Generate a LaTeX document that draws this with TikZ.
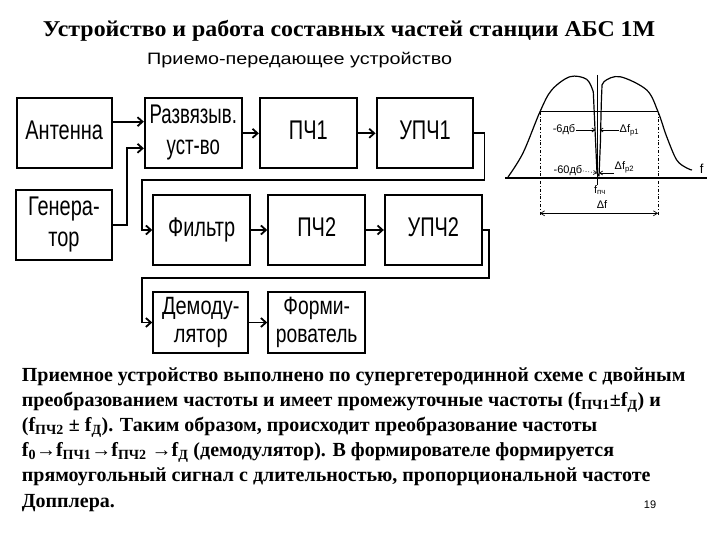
\documentclass[tikz,border=0pt]{standalone}
\usepackage{fontspec}
\usepackage{graphicx}
\setmainfont{Liberation Serif}
\setsansfont{Liberation Sans}
\usetikzlibrary{arrows.meta,calc}
\newcommand\boxtxt[2][0.74]{\scalebox{#1}[1]{\fontsize{27}{31}\selectfont\begin{tabular}{@{}c@{}}#2\end{tabular}}}
\newcommand\boxtxtS[2][0.8]{\scalebox{#1}[1]{\fontsize{25}{28}\selectfont\begin{tabular}{@{}c@{}}#2\end{tabular}}}
\begin{document}
\begin{tikzpicture}[x=1pt,y=-1pt,
  blk/.style={draw, line width=2.2pt, inner sep=0pt, font=\sffamily},
  conn/.style={line width=1.8pt, -{Straight Barb[length=5pt,width=9pt]}},
  para/.style={anchor=base west, inner sep=0pt, font=\bfseries\fontsize{20}{24}\selectfont},
  lbl/.style={inner sep=0.5pt, font=\sffamily\fontsize{11}{12}\selectfont},
  thinl/.style={line width=0.7pt}]
\useasboundingbox (0,0) rectangle (720,540);
% title
\node[anchor=base west, inner sep=0pt, font=\bfseries\fontsize{22.6}{26}\selectfont] (title) at (42.7,36.7) {\scalebox{1.057}[1]{Устройство и работа составных частей станции АБС 1М}};
\node[anchor=base west, inner sep=0pt, font=\sffamily\fontsize{16.5}{18}\selectfont] (sub) at (147,64.3) {\scalebox{1.2}[1]{Приемо-передающее устройство}};
% blocks
\node[blk, minimum width=95pt, minimum height=70pt] (ant) at (64.2,133.3) {\boxtxt{Антенна}};
\node[blk, minimum width=95.7pt, minimum height=70pt] (gen) at (63.9,225) {\boxtxt{Генера-\\тор}};
\node[blk, minimum width=96.7pt, minimum height=70pt] (raz) at (193.3,133.3) {\boxtxt[0.69]{Развязыв.\\уст-во}};
\node[blk, minimum width=96.7pt, minimum height=70pt] (pch1) at (308.3,133.3) {\boxtxt{ПЧ1}};
\node[blk, minimum width=96.7pt, minimum height=70pt] (upch1) at (425,133.3) {\boxtxt{УПЧ1}};
\node[blk, minimum width=96.7pt, minimum height=70pt] (fil) at (201.7,230) {\boxtxt{Фильтр}};
\node[blk, minimum width=96.7pt, minimum height=70pt] (pch2) at (316.7,230) {\boxtxt{ПЧ2}};
\node[blk, minimum width=96.7pt, minimum height=70pt] (upch2) at (433.3,230) {\boxtxt{УПЧ2}};
\node[blk, minimum width=95pt, minimum height=61.7pt] (dem) at (200.8,322.5) {\boxtxtS{Демоду-\\лятор}};
\node[blk, minimum width=96.7pt, minimum height=61.7pt] (form) at (316.7,322.5) {\boxtxtS[0.77]{Форми-\\рователь}};
% connectors
\draw[conn] ($(ant.east)+(0,-11.6)$) -- ($(raz.west)+(0,-11.6)$);
\draw[conn] (gen.east) -- ++(14,0) |- ($(raz.west)+(0,15)$);
\draw[conn] (raz) -- (pch1);
\draw[conn] (pch1) -- (upch1);
\draw[conn] (upch1.east) -- ++(10,0) |- (141.7,180) |- (fil.west);
\draw[conn] (fil) -- (pch2);
\draw[conn] (pch2) -- (upch2);
\draw[conn] (upch2.east) -- ++(6.3,0) |- (141.7,278) |- (dem.west);
\draw[conn] (dem) -- (form);
% filter characteristic
\coordinate (axL) at (505,178.3);
\coordinate (axR) at (706.7,178.3);
\draw[line width=2pt] (axL) -- (axR);
\node[lbl, font=\sffamily\fontsize{13}{14}\selectfont] (fax) at (701.7,169) {f};
\draw[line width=1.2pt, line join=round]
  plot[smooth, tension=0.55] coordinates {(508,177) (523,153) (540,111.7) (551.7,90) (570,76.7) (586.7,79.3) (593.3,92)}
  -- (597,173) -- (599,176) -- (600.5,140)
  plot[smooth, tension=0.55] coordinates {(600.5,140) (601.7,93) (604,81.7) (620,76.7) (646.7,90) (658,111.7) (666.7,136.7) (676.7,160) (686.7,168) (692,170)};
\coordinate (m6L) at (540,111.7);
\coordinate (m6R) at (658,111.7);
\draw[thinl] (m6L) -- (m6R);
\coordinate (vL) at (540,216);
\coordinate (vR) at (658,216);
\draw[thinl, dash dot] (m6L) -- (vL);
\draw[thinl, dash dot] (m6R) -- (vR);
\draw[thinl, {Straight Barb[length=4pt,width=5pt]}-{Straight Barb[length=4pt,width=5pt]}] (540,213.3) -- (658,213.3);
\node[lbl] (df) at (602,205) {Δf};
\coordinate (nT) at (597.5,75);
\coordinate (nB) at (597.5,185);
\draw[line width=0.5pt] (nT) -- (nB);
\node[lbl, anchor=east] (l6) at (576,130) {-6дб};
\node[lbl, anchor=west] (r1) at (619,130) {Δf\textsubscript{р1}};
\coordinate (n6L) at (595.5,130);
\coordinate (n6R) at (599.5,130);
\draw[thinl, -{Straight Barb[length=3pt,width=4pt]}] (l6) -- (n6L);
\draw[thinl, -{Straight Barb[length=3pt,width=4pt]}] (r1) -- (n6R);
\node[lbl, anchor=east] (l60) at (583,171) {-60дб};
\node[lbl, anchor=west] (r2) at (614,167) {Δf\textsubscript{р2}};
\coordinate (n60L) at (597,173);
\coordinate (n60R) at (599,173);
\draw[thinl, dotted, -{Straight Barb[length=3pt,width=4pt]}] (l60.east) -- (n60L);
\draw[thinl, -{Straight Barb[length=3pt,width=4pt]}] (r2.west |- n60R) -- (n60R);
\node[lbl] (fpch) at (600,190) {f\textsubscript{пч}};
% paragraph
\node[para] (p1) at (21.7,381) {Приемное устройство выполнено по супергетеродинной схеме с двойным};
\node[para] (p2) at (21.7,406) {преобразованием частоты и имеет промежуточные частоты (f\textsubscript{ПЧ1}±f\textsubscript{Д}) и};
\node[para] (p3) at (21.7,431) {(f\textsubscript{ПЧ2} ± f\textsubscript{Д}). Таким образом, происходит преобразование частоты};
\node[para] (p4) at (21.7,456) {f\textsubscript{0}→f\textsubscript{ПЧ1}→f\textsubscript{ПЧ2} →f\textsubscript{Д} (демодулятор). В формирователе формируется};
\node[para] (p5) at (21.7,481) {прямоугольный сигнал с длительностью, пропорциональной частоте};
\node[para] (p6) at (21.7,507) {Допплера.};
\node[inner sep=0pt, font=\sffamily\fontsize{11}{12}\selectfont] (pg) at (650,505) {19};
\end{tikzpicture}
\end{document}
